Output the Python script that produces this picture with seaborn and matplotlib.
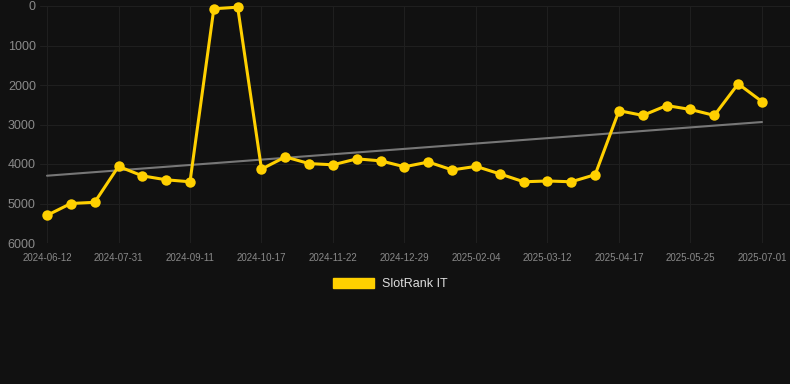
import matplotlib
matplotlib.use("Agg")
import matplotlib.pyplot as plt
from matplotlib.patches import Patch
import seaborn as sns
import numpy as np
import pandas as pd

# ---- data ----
rank_values = [5300, 5000, 4970, 4060, 4300, 4400, 4450, 70, 30, 4130,
               3820, 3990, 4020, 3870, 3920, 4070, 3950, 4150, 4060, 4250,
               4450, 4430, 4450, 4270, 2650, 2770, 2520, 2620, 2770, 1970,
               2420]
tick_labels = ["2024-06-12", "2024-07-31", "2024-09-11", "2024-10-17",
               "2024-11-22", "2024-12-29", "2025-02-04", "2025-03-12",
               "2025-04-17", "2025-05-25", "2025-07-01"]
series_name = "SlotRank IT"
y_ticks = [0, 1000, 2000, 3000, 4000, 5000, 6000]

df = pd.DataFrame({"idx": np.arange(len(rank_values)), "rank": rank_values})

BG = "#111111"
GOLD = "#FFD000"
GRID = "#1f1f1f"

sns.set_theme(style="dark")
plt.rcParams["font.family"] = ["Liberation Sans", "DejaVu Sans"]

fig = plt.figure(figsize=(7.9, 3.84), dpi=100, facecolor=BG)
ax = fig.add_axes([40 / 790, 1 - 243 / 384, 1 - 40 / 790, (243 - 6) / 384])
ax.set_facecolor(BG)

# trend line (linear fit)
sns.regplot(data=df, x="idx", y="rank", ax=ax, scatter=False, ci=None,
            truncate=True, line_kws=dict(color="#777777", lw=1.5, zorder=2))

sns.lineplot(data=df, x="idx", y="rank", ax=ax, color=GOLD, lw=2.2,
             marker="o", markersize=7.5, markeredgewidth=0, zorder=3,
             clip_on=False)

ax.set_ylim(6000, 0)
ax.set_xlim(-7 / 23.83, 30 + 28 / 23.83)
ax.set_yticks(y_ticks)
ax.set_yticklabels([str(v) for v in y_ticks])
tick_pos = list(range(0, len(rank_values), 3))
ax.set_xticks(tick_pos)
ax.set_xticklabels(tick_labels)

ax.grid(True, color=GRID, lw=0.8)
ax.tick_params(axis="y", colors="#8a8a8a", labelsize=9, length=0, pad=3)
ax.tick_params(axis="x", colors="#8a8a8a", labelsize=7, length=6,
               width=0.8, pad=1)
for t in ax.get_xticklines():
    t.set_color(GRID)
for s in ax.spines.values():
    s.set_visible(False)
ax.set_xlabel("")
ax.set_ylabel("")

handle = Patch(facecolor=GOLD, edgecolor=GOLD, label=series_name)
fig.legend(handles=[handle], loc="center", bbox_to_anchor=(390 / 790, 1 - 284 / 384),
           frameon=False, fontsize=9, labelcolor="#dddddd",
           handlelength=3.3, handleheight=0.9, handletextpad=0.6)

fig.savefig("out.png", dpi=100, facecolor=BG)
